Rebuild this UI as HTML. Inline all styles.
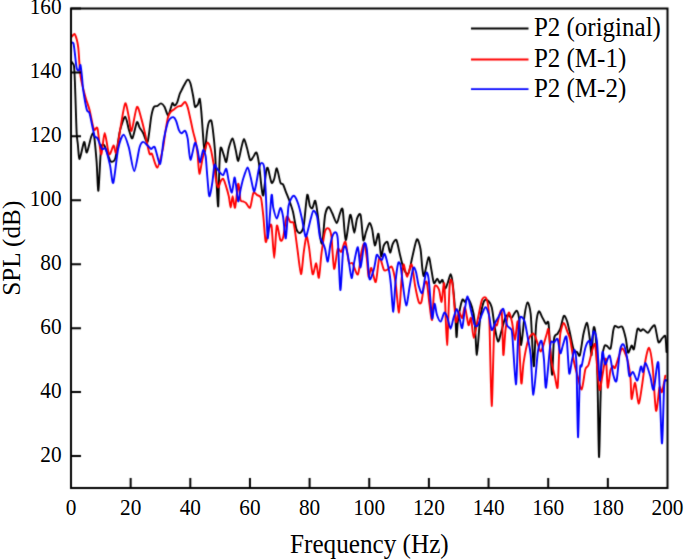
<!DOCTYPE html><html><head><meta charset="utf-8"><style>html,body{margin:0;padding:0;background:#fff;width:685px;height:559px;overflow:hidden}svg{display:block}text{font-family:"Liberation Serif",serif;fill:#000}</style></head><body>
<svg width="685" height="559" viewBox="0 0 685 559">
<rect x="0" y="0" width="685" height="559" fill="#fff"/>
<defs><filter id="bl" color-interpolation-filters="sRGB" x="0" y="0" width="685" height="559" filterUnits="userSpaceOnUse"><feConvolveMatrix order="3" kernelMatrix="0.0196 0.1008 0.0196 0.1008 0.5184 0.1008 0.0196 0.1008 0.0196" edgeMode="duplicate"/></filter><clipPath id="c"><rect x="71.0" y="8.5" width="596.5" height="479.5"/></clipPath></defs>
<g filter="url(#bl)">
<g clip-path="url(#c)" fill="none" stroke-width="1.9" stroke-linejoin="round" stroke-linecap="round">
<path stroke="#000" d="M71.0,61.0C71.19,61.27 72.00,62.33 72.4,63.0C72.80,63.67 73.67,63.47 74.0,66.0C74.33,68.53 74.66,76.27 74.9,82.0C75.14,87.73 75.56,102.07 75.8,109.0C76.04,115.93 76.43,129.33 76.7,134.0C76.97,138.67 77.41,140.67 77.8,144.0C78.19,147.33 78.76,159.27 79.6,159.0C80.44,158.73 83.14,142.85 84.1,142.0C85.06,141.15 85.84,153.33 86.8,152.6C87.76,151.87 90.35,138.89 91.3,136.5C92.25,134.11 93.19,131.35 93.9,134.7C94.61,138.05 96.00,154.12 96.6,161.6C97.20,169.08 97.81,192.48 98.4,190.8C98.99,189.12 100.25,155.11 101.0,149.0C101.75,142.89 103.07,144.20 104.0,145.0C104.93,145.80 107.07,152.79 108.0,155.0C108.93,157.21 110.01,161.20 111.0,161.6C111.99,162.00 114.21,162.08 115.4,158.0C116.59,153.92 118.59,136.49 119.9,131.0C121.21,125.51 124.01,117.01 125.2,116.8C126.39,116.59 127.84,126.53 128.8,129.4C129.76,132.27 131.32,139.26 132.4,138.3C133.48,137.34 135.94,123.63 136.9,122.2C137.86,120.77 138.77,126.16 139.6,127.6C140.43,129.04 142.03,131.09 143.1,133.0C144.17,134.91 146.52,144.06 147.6,141.9C148.68,139.74 150.36,121.45 151.2,116.8C152.04,112.15 153.07,108.44 153.9,107.0C154.73,105.56 156.45,106.48 157.4,106.0C158.35,105.52 160.04,103.27 161.0,103.4C161.96,103.53 163.67,105.39 164.6,107.0C165.53,108.61 167.19,115.33 168.0,115.5C168.81,115.67 170.10,109.98 170.7,108.3C171.30,106.62 172.02,103.26 172.5,102.9C172.98,102.54 173.70,105.60 174.3,105.6C174.90,105.60 176.28,104.45 177.0,102.9C177.72,101.35 179.10,95.67 179.7,94.0C180.30,92.33 180.90,91.60 181.5,90.4C182.10,89.20 183.37,86.43 184.2,85.0C185.03,83.57 186.87,79.93 187.7,79.7C188.53,79.47 189.68,81.15 190.4,83.3C191.12,85.45 192.50,92.71 193.1,95.8C193.70,98.89 194.45,105.14 194.9,106.5C195.35,107.86 196.07,106.36 196.5,106.0C196.93,105.64 197.66,104.76 198.1,103.8C198.54,102.84 199.37,97.80 199.8,98.8C200.23,99.80 200.94,107.46 201.3,111.3C201.66,115.14 202.17,123.09 202.5,127.6C202.83,132.11 203.47,141.94 203.8,145.1C204.13,148.26 204.59,152.97 205.0,151.3C205.41,149.63 206.39,136.44 206.9,132.6C207.41,128.76 208.21,124.09 208.8,122.5C209.39,120.91 210.71,119.35 211.3,120.7C211.89,122.05 212.71,128.52 213.2,132.6C213.69,136.68 214.59,145.30 215.0,151.3C215.41,157.30 215.87,170.25 216.3,177.6C216.73,184.95 217.79,208.08 218.2,206.4C218.61,204.72 219.07,172.85 219.4,165.0C219.73,157.15 220.11,148.82 220.7,147.5C221.29,146.18 223.05,153.17 223.8,155.1C224.55,157.03 225.63,162.95 226.3,162.0C226.97,161.05 227.96,151.13 228.8,148.0C229.64,144.87 231.68,138.23 232.6,138.5C233.52,138.77 234.95,147.00 235.7,150.0C236.45,153.00 237.45,161.27 238.2,161.0C238.95,160.73 240.53,150.93 241.3,148.0C242.07,145.07 243.24,139.00 244.0,139.0C244.76,139.00 246.19,145.20 247.0,148.0C247.81,150.80 249.27,158.80 250.1,160.0C250.93,161.20 252.36,158.00 253.2,157.0C254.04,156.00 255.64,151.70 256.4,152.5C257.16,153.30 258.21,158.27 258.9,163.0C259.59,167.73 261.00,183.73 261.6,188.0C262.20,192.27 262.80,197.15 263.4,195.0C264.00,192.85 265.50,175.46 266.1,171.9C266.70,168.34 267.18,166.87 267.9,168.3C268.62,169.73 270.66,181.17 271.5,182.6C272.34,184.03 273.49,180.91 274.2,179.0C274.91,177.09 275.97,167.82 276.8,168.3C277.63,168.78 279.56,180.45 280.4,182.6C281.24,184.75 282.38,183.20 283.1,184.4C283.82,185.60 284.96,189.43 285.8,191.6C286.64,193.77 288.45,198.05 289.4,200.7C290.35,203.35 291.95,207.67 292.9,211.5C293.85,215.33 295.54,226.55 296.5,229.4C297.46,232.25 299.14,233.38 300.1,232.9C301.06,232.42 302.75,230.85 303.7,225.8C304.65,220.75 306.37,197.64 307.2,195.0C308.03,192.36 309.19,204.27 309.9,206.0C310.61,207.73 311.78,208.71 312.5,208.0C313.22,207.29 314.57,199.53 315.3,200.7C316.03,201.87 317.28,211.55 318.0,216.8C318.72,222.05 320.10,236.74 320.7,240.1C321.30,243.46 321.91,245.35 322.5,242.0C323.09,238.65 324.27,219.67 325.1,215.0C325.93,210.33 327.74,207.23 328.7,207.0C329.66,206.77 331.22,211.15 332.3,213.3C333.38,215.45 335.77,223.10 336.8,223.1C337.83,223.10 339.21,215.09 340.0,213.3C340.79,211.51 341.94,206.13 342.7,209.7C343.46,213.27 344.75,239.27 345.7,240.1C346.65,240.93 349.03,218.85 349.8,215.9C350.57,212.95 350.90,215.73 351.5,218.0C352.10,220.27 353.57,232.82 354.3,232.9C355.03,232.98 356.16,220.99 357.0,218.6C357.84,216.21 359.76,212.13 360.6,215.0C361.44,217.87 362.58,237.83 363.3,240.1C364.02,242.37 365.17,234.27 366.0,232.0C366.83,229.73 368.67,223.45 369.5,223.1C370.33,222.75 371.48,226.41 372.2,229.4C372.92,232.39 374.06,244.91 374.9,245.5C375.74,246.09 377.67,232.37 378.5,233.8C379.33,235.23 380.39,254.64 381.1,256.2C381.81,257.76 382.96,247.41 383.8,245.5C384.64,243.59 386.56,240.95 387.4,241.9C388.24,242.85 389.38,252.36 390.1,252.6C390.82,252.84 391.96,245.37 392.8,243.7C393.64,242.03 395.45,238.67 396.4,240.1C397.35,241.53 399.07,251.07 399.9,254.4C400.73,257.73 401.76,262.58 402.6,265.1C403.44,267.62 405.36,272.34 406.2,273.3C407.04,274.26 408.06,274.58 408.9,272.3C409.74,270.02 411.43,260.61 412.5,256.2C413.57,251.79 415.83,240.16 416.9,239.2C417.97,238.24 419.78,245.16 420.5,249.0C421.22,252.84 421.82,264.41 422.3,268.0C422.78,271.59 423.26,277.34 424.1,275.9C424.94,274.46 427.65,258.16 428.6,257.2C429.55,256.24 430.49,265.26 431.2,268.7C431.91,272.14 433.10,281.68 433.9,283.0C434.70,284.32 436.41,278.59 437.2,278.6C437.99,278.61 439.09,282.91 439.8,283.1C440.51,283.29 441.78,279.28 442.5,280.0C443.22,280.72 444.47,288.23 445.2,288.5C445.93,288.77 447.28,283.91 448.0,282.0C448.72,280.09 450.00,274.20 450.6,274.2C451.20,274.20 451.91,277.36 452.5,282.0C453.09,286.64 454.47,301.67 455.0,309.0C455.53,316.33 456.10,335.53 456.5,337.0C456.90,338.47 457.24,324.92 458.0,320.0C458.76,315.08 461.27,302.50 462.2,300.1C463.13,297.70 464.28,302.24 465.0,302.0C465.72,301.76 466.67,297.61 467.6,298.3C468.53,298.99 471.05,304.09 472.0,307.2C472.95,310.31 474.05,315.24 474.7,321.6C475.35,327.96 476.19,355.11 476.9,354.9C477.61,354.69 479.09,327.07 480.0,320.0C480.91,312.93 482.74,304.55 483.7,301.9C484.66,299.25 486.13,299.39 487.2,300.1C488.27,300.81 490.74,303.87 491.7,307.2C492.66,310.53 493.56,320.53 494.4,325.1C495.24,329.67 497.04,340.78 498.0,341.5C498.96,342.22 500.65,333.63 501.6,330.5C502.55,327.37 504.25,320.07 505.1,318.0C505.95,315.93 507.16,315.00 508.0,315.0C508.84,315.00 510.60,318.13 511.4,318.0C512.20,317.87 513.28,314.96 514.0,314.0C514.72,313.04 516.13,310.27 516.8,310.8C517.47,311.33 518.41,313.44 519.0,318.0C519.59,322.56 520.47,345.29 521.2,345.0C521.93,344.71 523.66,321.48 524.5,315.8C525.34,310.12 526.67,302.64 527.5,302.4C528.33,302.16 530.03,307.92 530.7,314.0C531.37,320.08 532.06,341.08 532.5,348.0C532.94,354.92 533.52,369.01 534.0,365.9C534.48,362.79 535.46,331.98 536.1,324.7C536.74,317.42 537.96,312.25 538.8,311.3C539.64,310.35 541.45,315.93 542.4,317.6C543.35,319.27 545.09,323.08 545.9,323.8C546.71,324.52 547.90,319.29 548.5,323.0C549.10,326.71 549.91,344.69 550.4,351.6C550.89,358.51 551.72,376.48 552.2,374.8C552.68,373.12 553.28,344.48 554.0,339.0C554.72,333.52 556.73,335.17 557.6,333.7C558.47,332.23 559.67,330.39 560.5,328.0C561.33,325.61 562.93,316.73 563.8,315.8C564.67,314.87 566.16,318.61 567.0,321.0C567.84,323.39 569.21,329.86 570.1,333.7C570.99,337.54 572.78,347.36 573.7,349.8C574.62,352.24 576.17,351.29 577.0,352.0C577.83,352.71 579.03,357.54 579.9,355.1C580.77,352.66 582.54,337.99 583.5,333.7C584.46,329.41 586.26,322.19 587.1,322.9C587.94,323.61 589.20,334.71 589.8,339.0C590.40,343.29 591.13,356.29 591.6,355.1C592.07,353.91 592.91,333.75 593.3,330.1C593.69,326.45 594.14,326.38 594.5,327.7C594.86,329.02 595.60,333.03 596.0,340.0C596.40,346.97 597.10,364.41 597.5,380.0C597.90,395.59 598.60,454.23 599.0,456.9C599.40,459.57 600.15,412.57 600.5,400.0C600.85,387.43 601.09,369.73 601.6,362.6C602.11,355.47 603.58,348.71 604.3,346.5C605.02,344.29 606.16,345.76 607.0,346.0C607.84,346.24 609.76,350.38 610.6,348.3C611.44,346.22 612.71,333.39 613.3,330.4C613.89,327.41 614.31,326.29 615.0,325.9C615.69,325.51 617.54,327.38 618.5,327.5C619.46,327.62 621.23,325.32 622.2,326.8C623.17,328.28 625.01,335.16 625.8,338.6C626.59,342.04 627.33,351.67 628.1,352.6C628.87,353.53 630.81,346.08 631.6,345.6C632.39,345.12 633.23,351.17 634.0,349.0C634.77,346.83 636.53,331.70 637.4,329.3C638.27,326.90 639.71,331.00 640.5,331.0C641.29,331.00 642.31,329.06 643.3,329.3C644.29,329.54 646.82,332.96 647.9,332.8C648.98,332.64 650.47,329.03 651.4,328.1C652.33,327.17 653.97,323.93 654.9,325.8C655.83,327.67 657.47,340.39 658.4,342.1C659.33,343.81 660.98,339.37 661.9,338.6C662.82,337.83 664.69,334.51 665.3,336.3C665.91,338.09 666.34,349.91 666.5,352.0"/>
<path stroke="#f00" d="M71.4,37.2C71.80,36.77 73.69,33.72 74.4,34.0C75.11,34.28 76.18,37.45 76.7,39.3C77.22,41.15 77.94,44.75 78.3,47.9C78.66,51.05 79.11,59.18 79.4,62.9C79.69,66.62 80.11,72.85 80.5,75.8C80.89,78.75 81.58,81.95 82.3,85.0C83.02,88.05 84.94,95.41 85.9,98.7C86.86,101.99 88.43,105.61 89.5,109.7C90.57,113.79 92.83,126.89 93.9,129.4C94.97,131.91 96.54,125.17 97.5,128.5C98.46,131.83 100.14,153.80 101.1,154.4C102.06,155.00 103.63,133.00 104.7,133.0C105.77,133.00 107.91,152.73 109.1,154.4C110.29,156.07 112.64,145.74 113.6,145.5C114.56,145.26 115.34,155.23 116.3,152.6C117.26,149.97 119.61,132.36 120.8,125.8C121.99,119.24 124.13,104.60 125.2,103.4C126.27,102.20 127.96,113.12 128.8,116.8C129.64,120.48 130.42,132.31 131.5,131.0C132.58,129.69 135.59,108.65 136.9,107.0C138.21,105.35 140.23,115.13 141.3,118.6C142.37,122.07 143.82,128.35 144.9,133.0C145.98,137.65 148.45,150.70 149.4,153.5C150.35,156.30 150.93,152.12 152.0,154.0C153.07,155.88 155.96,168.27 157.4,167.6C158.84,166.93 161.73,153.80 162.8,149.0C163.87,144.20 164.71,135.84 165.4,131.6C166.09,127.36 167.29,119.83 168.0,117.2C168.71,114.57 169.86,112.97 170.7,111.9C171.54,110.83 173.34,109.92 174.3,109.2C175.26,108.48 176.94,106.98 177.9,106.5C178.86,106.02 180.55,106.20 181.5,105.6C182.45,105.00 184.17,101.76 185.0,102.0C185.83,102.24 186.98,105.13 187.7,107.4C188.42,109.67 189.68,115.77 190.4,119.0C191.12,122.23 192.38,128.49 193.1,131.6C193.82,134.71 195.20,139.27 195.8,142.3C196.40,145.33 197.12,150.10 197.6,154.3C198.08,158.50 198.75,173.20 199.4,173.8C200.05,174.40 201.67,162.31 202.5,158.8C203.33,155.29 204.93,149.67 205.6,147.5C206.27,145.33 206.82,142.33 207.5,142.5C208.18,142.67 209.86,145.80 210.7,148.8C211.54,151.80 213.05,160.67 213.8,165.0C214.55,169.33 215.71,178.29 216.3,181.3C216.89,184.31 217.61,187.60 218.2,187.6C218.79,187.60 220.03,182.47 220.7,181.3C221.37,180.13 222.53,178.29 223.2,178.8C223.87,179.31 224.95,182.77 225.7,185.1C226.45,187.43 228.13,193.30 228.8,196.3C229.47,199.30 230.19,207.60 230.7,207.6C231.21,207.60 232.01,196.30 232.6,196.3C233.19,196.30 234.35,209.27 235.1,207.6C235.85,205.93 237.48,184.81 238.2,183.8C238.92,182.79 239.83,197.65 240.5,200.0C241.17,202.35 242.47,201.00 243.2,201.4C243.93,201.80 245.08,202.17 246.0,203.0C246.92,203.83 249.11,208.93 250.1,207.6C251.09,206.27 252.45,194.67 253.4,193.0C254.35,191.33 256.19,194.43 257.2,195.1C258.21,195.77 260.17,195.08 261.0,198.0C261.83,200.92 262.77,211.15 263.4,217.0C264.03,222.85 264.98,240.25 265.7,241.9C266.42,243.55 268.03,231.55 268.8,229.4C269.57,227.25 270.78,221.99 271.5,225.8C272.22,229.61 273.49,258.00 274.2,258.0C274.91,258.00 275.97,228.19 276.8,225.8C277.63,223.41 279.56,238.55 280.4,240.1C281.24,241.65 282.26,240.51 283.1,237.4C283.94,234.29 285.74,218.83 286.7,216.8C287.66,214.77 289.35,221.24 290.3,222.2C291.25,223.16 292.85,220.43 293.8,224.0C294.75,227.57 296.44,242.32 297.4,249.0C298.36,255.68 300.16,273.62 301.0,274.1C301.84,274.58 302.98,257.61 303.7,252.6C304.42,247.59 305.69,237.22 306.4,236.5C307.11,235.78 308.17,242.19 309.0,247.2C309.83,252.21 311.64,271.95 312.6,274.1C313.56,276.25 315.36,262.82 316.2,263.3C317.04,263.78 318.18,279.13 318.9,277.7C319.62,276.27 320.77,258.81 321.6,252.6C322.43,246.39 324.15,234.31 325.1,231.1C326.05,227.89 327.86,227.78 328.7,228.5C329.54,229.22 330.68,231.14 331.4,236.5C332.12,241.86 333.26,267.03 334.1,268.7C334.94,270.37 336.75,251.27 337.7,249.0C338.65,246.73 340.17,252.65 341.2,251.7C342.23,250.75 344.37,240.46 345.4,241.9C346.43,243.34 347.95,259.65 348.9,262.5C349.85,265.35 351.30,261.70 352.5,263.3C353.70,264.90 356.70,276.01 357.9,274.5C359.10,272.99 360.66,256.11 361.5,252.0C362.34,247.89 363.49,242.90 364.2,243.7C364.91,244.50 366.21,253.59 366.8,258.0C367.39,262.41 368.00,275.47 368.6,276.8C369.20,278.13 370.34,267.31 371.3,268.0C372.26,268.69 374.72,283.40 375.8,282.0C376.88,280.60 378.33,259.14 379.4,257.5C380.47,255.86 382.73,268.07 383.8,269.7C384.87,271.33 386.32,270.06 387.4,269.7C388.48,269.34 390.82,265.33 391.9,267.0C392.98,268.67 394.55,276.12 395.5,282.2C396.45,288.28 398.20,312.89 399.0,312.6C399.80,312.31 400.90,286.44 401.5,280.0C402.10,273.56 402.75,264.73 403.5,264.3C404.25,263.87 406.02,276.80 407.1,276.8C408.18,276.80 410.53,263.10 411.6,264.3C412.67,265.50 414.15,280.79 415.1,285.8C416.05,290.81 417.86,299.74 418.7,301.9C419.54,304.06 420.68,304.15 421.4,302.0C422.12,299.85 423.38,288.44 424.1,285.8C424.82,283.16 426.09,279.81 426.8,282.2C427.51,284.59 428.69,298.69 429.4,303.7C430.11,308.71 431.42,322.03 432.1,319.8C432.78,317.57 433.59,291.05 434.5,287.0C435.41,282.95 437.95,287.41 438.9,289.4C439.85,291.39 440.88,302.62 441.6,301.9C442.32,301.18 443.58,278.25 444.3,284.0C445.02,289.75 446.28,344.88 447.0,345.0C447.72,345.12 448.97,293.03 449.7,284.9C450.43,276.77 451.67,279.11 452.5,284.0C453.33,288.89 455.03,317.87 455.9,321.6C456.77,325.33 458.16,312.48 459.0,312.0C459.84,311.52 461.41,318.64 462.2,318.0C462.99,317.36 464.06,306.25 464.9,307.2C465.74,308.15 467.69,323.66 468.5,325.1C469.31,326.54 470.29,316.28 471.0,318.0C471.71,319.72 472.87,338.00 473.8,338.0C474.73,338.00 476.92,323.05 478.0,318.0C479.08,312.95 480.90,302.85 481.9,300.1C482.90,297.35 484.69,296.75 485.5,297.4C486.31,298.05 487.47,301.32 488.0,305.0C488.53,308.68 489.01,311.55 489.5,325.0C489.99,338.45 491.07,405.23 491.7,405.9C492.33,406.57 493.49,340.79 494.2,330.0C494.91,319.21 496.01,327.56 497.0,325.0C497.99,322.44 500.76,306.81 501.6,310.8C502.44,314.79 502.78,352.34 503.3,354.9C503.82,357.46 504.78,335.64 505.5,330.0C506.22,324.36 507.83,313.67 508.7,312.6C509.57,311.53 511.16,318.35 512.0,322.0C512.84,325.65 514.20,340.00 515.0,340.0C515.80,340.00 517.17,316.32 518.0,322.0C518.83,327.68 520.45,377.23 521.2,382.6C521.95,387.97 522.69,367.87 523.6,362.3C524.51,356.73 526.81,344.61 528.0,340.8C529.19,336.99 531.57,334.34 532.5,333.7C533.43,333.06 534.28,334.57 535.0,336.0C535.72,337.43 537.15,342.32 537.9,344.4C538.65,346.48 539.85,351.52 540.6,351.6C541.35,351.68 542.67,347.39 543.5,345.0C544.33,342.61 546.12,335.69 546.8,333.7C547.48,331.71 548.00,326.53 548.6,330.1C549.20,333.67 550.46,354.30 551.3,360.5C552.14,366.70 554.06,372.99 554.9,376.6C555.74,380.21 557.05,390.21 557.6,387.6C558.15,384.99 558.64,364.19 559.0,357.0C559.36,349.81 559.66,338.25 560.3,333.7C560.94,329.15 562.85,323.14 563.8,322.9C564.75,322.66 566.56,329.75 567.4,331.9C568.24,334.05 569.26,335.19 570.1,339.0C570.94,342.81 572.75,355.73 573.7,360.5C574.65,365.27 576.13,370.95 577.2,374.8C578.27,378.65 580.62,390.12 581.7,389.4C582.78,388.68 584.39,372.65 585.3,369.4C586.21,366.15 587.55,367.61 588.5,365.0C589.45,362.39 591.52,352.55 592.4,349.8C593.28,347.05 594.49,342.37 595.1,344.4C595.71,346.43 596.40,358.92 597.0,365.0C597.60,371.08 598.87,388.67 599.6,390.0C600.33,391.33 601.66,379.17 602.5,375.0C603.34,370.83 605.21,357.02 605.9,358.7C606.59,360.38 607.09,386.09 607.7,387.6C608.31,389.11 609.79,372.88 610.5,370.0C611.21,367.12 612.40,366.27 613.0,366.0C613.60,365.73 614.25,369.17 615.0,368.0C615.75,366.83 617.64,359.83 618.6,357.2C619.56,354.57 621.24,348.59 622.2,348.3C623.16,348.01 625.03,353.17 625.8,355.0C626.57,356.83 627.37,358.93 628.0,362.0C628.63,365.07 630.02,373.07 630.5,378.0C630.98,382.93 630.99,398.36 631.6,399.0C632.21,399.64 634.17,382.17 635.1,382.8C636.03,383.43 637.67,403.39 638.6,403.7C639.53,404.01 641.17,390.99 642.1,385.1C643.03,379.21 644.67,364.46 645.6,359.5C646.53,354.54 648.17,346.97 649.1,347.9C650.03,348.83 651.68,358.13 652.6,366.5C653.52,374.87 655.08,407.91 656.0,410.7C656.92,413.49 658.71,389.88 659.5,387.4C660.29,384.92 661.13,393.65 661.9,392.1C662.67,390.55 664.85,377.97 665.3,375.8"/>
<path stroke="#00f" d="M71.4,42.5C71.68,42.65 73.01,41.88 73.5,43.6C73.99,45.32 74.67,52.11 75.1,55.4C75.53,58.69 76.19,66.30 76.7,68.3C77.21,70.30 78.39,70.83 78.9,70.4C79.41,69.97 80.07,64.09 80.5,65.1C80.93,66.11 81.74,74.68 82.1,78.0C82.46,81.32 82.57,85.77 83.2,90.0C83.83,94.23 85.96,106.59 86.8,109.7C87.64,112.81 88.67,110.67 89.5,113.3C90.33,115.93 92.29,126.31 93.0,129.4C93.71,132.49 94.20,135.31 94.8,136.5C95.40,137.69 96.54,136.63 97.5,138.3C98.46,139.97 100.92,147.57 102.0,149.0C103.08,150.43 104.53,146.85 105.6,149.0C106.67,151.15 108.97,160.59 110.0,165.1C111.03,169.61 112.22,184.95 113.3,182.8C114.38,180.65 116.74,155.41 118.1,149.0C119.46,142.59 122.07,134.94 123.5,134.7C124.93,134.46 127.37,142.35 128.8,147.2C130.23,152.05 132.76,171.10 134.2,171.1C135.64,171.10 138.41,151.09 139.6,147.2C140.79,143.31 142.03,142.13 143.1,141.9C144.17,141.67 146.52,144.55 147.6,145.5C148.68,146.45 150.24,148.77 151.2,149.0C152.16,149.23 153.61,145.20 154.8,147.2C155.99,149.20 158.93,164.89 160.1,164.0C161.27,163.11 162.65,145.78 163.6,140.5C164.55,135.22 166.37,127.27 167.2,124.4C168.03,121.53 168.97,119.96 169.8,119.0C170.63,118.04 172.56,116.96 173.4,117.2C174.24,117.44 175.38,119.12 176.1,120.8C176.82,122.48 178.08,128.13 178.8,129.8C179.52,131.47 180.67,133.18 181.5,133.3C182.33,133.42 184.17,129.98 185.0,130.7C185.83,131.42 186.98,134.83 187.7,138.7C188.42,142.57 189.44,159.13 190.4,159.7C191.36,160.27 193.94,144.29 194.9,143.0C195.86,141.71 196.92,147.40 197.6,150.0C198.28,152.60 199.27,162.50 200.0,162.5C200.73,162.50 202.35,150.87 203.1,150.0C203.85,149.13 205.09,153.16 205.6,156.0C206.11,158.84 206.47,166.26 206.9,171.3C207.33,176.34 208.39,190.63 208.8,193.8C209.21,196.97 209.51,196.77 210.0,195.1C210.49,193.43 211.91,185.31 212.5,181.3C213.09,177.29 213.89,166.84 214.4,165.0C214.91,163.16 215.55,166.49 216.3,167.5C217.05,168.51 219.08,171.59 220.0,172.6C220.92,173.61 222.36,175.61 223.2,175.1C224.04,174.59 225.55,167.97 226.3,168.8C227.05,169.63 228.05,178.13 228.8,181.3C229.55,184.47 231.15,193.09 231.9,192.6C232.65,192.11 233.85,178.61 234.4,177.6C234.95,176.59 235.49,181.83 236.0,185.0C236.51,188.17 237.60,200.73 238.2,201.4C238.80,202.07 239.83,193.01 240.5,190.0C241.17,186.99 242.25,181.80 243.2,178.8C244.15,175.80 246.60,167.66 247.6,167.5C248.60,167.34 249.86,174.43 250.7,177.6C251.54,180.77 253.19,190.31 253.9,191.3C254.61,192.29 255.33,188.00 256.0,185.0C256.67,182.00 258.15,171.75 258.9,168.8C259.65,165.85 260.88,162.97 261.6,162.9C262.32,162.83 263.70,163.35 264.3,168.3C264.90,173.25 265.62,190.67 266.1,200.0C266.58,209.33 267.18,238.91 267.9,238.3C268.62,237.69 270.78,199.45 271.5,195.4C272.22,191.35 272.59,204.81 273.3,207.9C274.01,210.99 275.85,218.60 276.8,218.6C277.75,218.60 279.56,208.14 280.4,207.9C281.24,207.66 282.38,212.75 283.1,216.8C283.82,220.85 285.08,239.73 285.8,238.3C286.52,236.87 287.67,211.58 288.5,206.1C289.33,200.62 291.17,198.51 292.0,197.2C292.83,195.89 293.86,195.35 294.7,196.3C295.54,197.25 297.34,201.33 298.3,204.3C299.26,207.27 300.94,214.31 301.9,218.6C302.86,222.89 304.69,234.98 305.5,236.5C306.31,238.02 307.29,232.39 308.0,230.0C308.71,227.61 310.07,221.19 310.8,218.6C311.53,216.01 312.66,210.84 313.5,210.6C314.34,210.36 316.26,213.35 317.1,216.8C317.94,220.25 319.08,233.15 319.8,236.5C320.52,239.85 321.79,240.23 322.5,241.9C323.21,243.57 324.39,246.37 325.1,249.0C325.81,251.63 327.08,262.31 327.8,261.6C328.52,260.89 329.66,247.53 330.5,243.7C331.34,239.87 333.14,233.62 334.1,232.9C335.06,232.18 336.87,230.69 337.7,238.3C338.53,245.91 339.59,288.17 340.3,290.0C341.01,291.83 342.32,257.81 343.0,252.0C343.68,246.19 344.73,245.84 345.4,246.4C346.07,246.96 347.17,251.99 348.0,256.2C348.83,260.41 350.76,277.28 351.6,278.0C352.44,278.72 353.46,265.71 354.3,261.6C355.14,257.49 357.06,246.41 357.9,247.2C358.74,247.99 359.76,267.97 360.6,267.5C361.44,267.03 363.37,246.17 364.2,243.7C365.03,241.23 366.09,244.29 366.8,249.0C367.51,253.71 368.54,276.37 369.5,279.0C370.46,281.63 373.04,271.90 374.0,268.7C374.96,265.50 375.98,256.43 376.7,255.0C377.42,253.57 378.69,257.36 379.4,258.0C380.11,258.64 381.29,260.33 382.0,259.8C382.71,259.27 383.74,252.44 384.7,254.0C385.66,255.56 388.36,267.26 389.2,271.5C390.04,275.74 390.45,280.44 391.0,285.8C391.55,291.16 392.70,312.18 393.3,311.7C393.90,311.22 394.86,288.64 395.5,282.2C396.14,275.76 397.43,265.69 398.1,263.4C398.77,261.11 399.90,262.49 400.5,265.0C401.10,267.51 401.84,276.80 402.6,282.2C403.36,287.60 405.24,305.02 406.2,305.5C407.16,305.98 408.85,290.81 409.8,285.8C410.75,280.79 412.47,269.74 413.3,267.9C414.13,266.06 415.28,269.61 416.0,272.0C416.72,274.39 417.86,283.01 418.7,285.8C419.54,288.59 421.34,294.57 422.3,292.9C423.26,291.23 425.06,275.21 425.9,273.3C426.74,271.39 427.77,272.64 428.6,278.6C429.43,284.56 431.31,314.65 432.1,318.0C432.89,321.35 433.85,304.10 434.5,303.7C435.15,303.30 436.17,312.61 437.0,315.0C437.83,317.39 439.73,321.92 440.7,321.6C441.67,321.28 443.39,313.08 444.3,312.6C445.21,312.12 446.66,315.85 447.5,318.0C448.34,320.15 449.80,328.70 450.6,328.7C451.40,328.70 452.67,320.63 453.5,318.0C454.33,315.37 456.00,309.00 456.8,309.0C457.60,309.00 458.78,315.47 459.5,318.0C460.22,320.53 461.48,329.20 462.2,328.0C462.92,326.80 464.18,313.20 464.9,309.0C465.62,304.80 466.77,296.26 467.6,296.5C468.43,296.74 470.15,306.99 471.1,310.8C472.05,314.61 473.78,323.21 474.7,325.1C475.62,326.99 477.04,326.43 478.0,325.0C478.96,323.57 480.90,316.77 481.9,314.4C482.90,312.03 484.55,307.12 485.5,307.2C486.45,307.28 488.17,311.96 489.0,315.0C489.83,318.04 490.83,329.07 491.7,330.0C492.57,330.93 494.54,323.84 495.5,322.0C496.46,320.16 497.86,317.93 498.9,316.2C499.94,314.47 502.22,307.83 503.3,309.0C504.38,310.17 506.04,322.37 507.0,325.0C507.96,327.63 509.79,327.37 510.5,328.7C511.21,330.03 511.58,327.57 512.3,335.0C513.02,342.43 515.14,383.73 515.9,384.4C516.66,385.07 517.45,348.91 518.0,340.0C518.55,331.09 519.13,320.12 520.0,317.6C520.87,315.08 523.43,318.25 524.5,321.1C525.57,323.95 527.17,334.47 528.0,339.0C528.83,343.53 529.98,347.67 530.7,355.1C531.42,362.53 532.44,395.17 533.4,394.7C534.36,394.23 536.82,358.79 537.9,351.6C538.98,344.41 540.69,339.68 541.5,340.8C542.31,341.92 543.40,353.76 544.0,360.0C544.60,366.24 545.15,389.68 546.0,387.6C546.85,385.52 549.33,350.40 550.4,344.4C551.47,338.40 553.04,343.32 554.0,342.6C554.96,341.88 556.76,337.57 557.6,339.0C558.44,340.43 559.58,352.50 560.3,353.3C561.02,354.10 562.17,347.15 563.0,345.0C563.83,342.85 565.67,333.43 566.5,337.2C567.33,340.97 568.47,370.26 569.2,373.3C569.93,376.34 571.28,363.13 572.0,360.0C572.72,356.87 574.00,349.13 574.6,349.8C575.20,350.47 576.05,353.35 576.5,365.0C576.95,376.65 577.53,436.53 578.0,437.2C578.47,437.87 579.51,379.51 580.0,370.0C580.49,360.49 580.99,368.83 581.7,365.9C582.41,362.97 584.34,351.35 585.3,348.0C586.26,344.65 588.14,341.20 588.9,340.8C589.66,340.40 590.37,346.27 591.0,345.0C591.63,343.73 592.81,331.86 593.6,331.3C594.39,330.74 596.07,334.24 596.9,340.8C597.73,347.36 599.05,379.02 599.8,380.5C600.55,381.98 601.78,354.05 602.5,351.9C603.22,349.75 604.24,363.92 605.2,364.4C606.16,364.88 608.62,354.07 609.7,355.5C610.78,356.93 612.38,371.77 613.3,375.1C614.22,378.43 615.71,383.82 616.6,380.5C617.49,377.18 619.08,355.01 620.0,350.2C620.92,345.39 622.57,343.47 623.5,344.4C624.43,345.33 626.23,353.01 627.0,357.2C627.77,361.39 628.50,373.83 629.3,375.8C630.10,377.77 631.92,371.37 633.0,372.0C634.08,372.63 636.35,381.23 637.4,380.5C638.45,379.77 640.15,367.63 640.9,366.5C641.65,365.37 642.37,372.47 643.0,372.0C643.63,371.53 644.64,362.49 645.6,363.0C646.56,363.51 649.12,372.23 650.2,375.8C651.28,379.37 652.61,391.51 653.7,389.8C654.79,388.09 657.31,355.87 658.4,363.0C659.49,370.13 661.13,440.35 661.9,443.3C662.67,446.25 663.59,393.47 664.2,385.1C664.81,376.73 666.19,381.11 666.5,380.5"/>
</g>
<rect x="71.0" y="8.5" width="596.5" height="479.5" fill="none" stroke="#000" stroke-width="2"/>
<path d="M71.0,456.03h10M71.0,392.10h10M71.0,328.17h10M71.0,264.23h10M71.0,200.30h10M71.0,136.37h10M71.0,72.43h10M71.0,8.50h10M130.65,488.0v-10M190.30,488.0v-10M249.95,488.0v-10M309.60,488.0v-10M369.25,488.0v-10M428.90,488.0v-10M488.55,488.0v-10M548.20,488.0v-10M607.85,488.0v-10" stroke="#000" stroke-width="2" fill="none"/>
<line x1="471" y1="28.45" x2="528.5" y2="28.45" stroke="#000" stroke-width="1.9"/>
<line x1="471" y1="59.5" x2="528.5" y2="59.5" stroke="#f00" stroke-width="1.9"/>
<line x1="471" y1="89.15" x2="528.5" y2="89.15" stroke="#00f" stroke-width="1.9"/>
</g>
<text x="61.6" y="461.8" transform="matrix(1,0,0,1.06,0,-27.710)" font-size="21.3" text-anchor="end">20</text>
<text x="61.6" y="397.9" transform="matrix(1,0,0,1.06,0,-23.874)" font-size="21.3" text-anchor="end">40</text>
<text x="61.6" y="334.0" transform="matrix(1,0,0,1.06,0,-20.038)" font-size="21.3" text-anchor="end">60</text>
<text x="61.6" y="270.0" transform="matrix(1,0,0,1.06,0,-16.202)" font-size="21.3" text-anchor="end">80</text>
<text x="61.6" y="206.1" transform="matrix(1,0,0,1.06,0,-12.366)" font-size="21.3" text-anchor="end">100</text>
<text x="61.6" y="142.2" transform="matrix(1,0,0,1.06,0,-8.530)" font-size="21.3" text-anchor="end">120</text>
<text x="61.6" y="78.2" transform="matrix(1,0,0,1.06,0,-4.694)" font-size="21.3" text-anchor="end">140</text>
<text x="61.6" y="14.3" transform="matrix(1,0,0,1.06,0,-0.858)" font-size="21.3" text-anchor="end">160</text>
<text x="71.0" y="514.8" transform="matrix(1,0,0,1.06,0,-30.888)" font-size="21.3" text-anchor="middle">0</text>
<text x="130.7" y="514.8" transform="matrix(1,0,0,1.06,0,-30.888)" font-size="21.3" text-anchor="middle">20</text>
<text x="190.3" y="514.8" transform="matrix(1,0,0,1.06,0,-30.888)" font-size="21.3" text-anchor="middle">40</text>
<text x="249.9" y="514.8" transform="matrix(1,0,0,1.06,0,-30.888)" font-size="21.3" text-anchor="middle">60</text>
<text x="309.6" y="514.8" transform="matrix(1,0,0,1.06,0,-30.888)" font-size="21.3" text-anchor="middle">80</text>
<text x="369.2" y="514.8" transform="matrix(1,0,0,1.06,0,-30.888)" font-size="21.3" text-anchor="middle">100</text>
<text x="428.9" y="514.8" transform="matrix(1,0,0,1.06,0,-30.888)" font-size="21.3" text-anchor="middle">120</text>
<text x="488.6" y="514.8" transform="matrix(1,0,0,1.06,0,-30.888)" font-size="21.3" text-anchor="middle">140</text>
<text x="548.2" y="514.8" transform="matrix(1,0,0,1.06,0,-30.888)" font-size="21.3" text-anchor="middle">160</text>
<text x="607.9" y="514.8" transform="matrix(1,0,0,1.06,0,-30.888)" font-size="21.3" text-anchor="middle">180</text>
<text x="667.5" y="514.8" transform="matrix(1,0,0,1.06,0,-30.888)" font-size="21.3" text-anchor="middle">200</text>
<text x="369.4" y="553" transform="matrix(1,0,0,1.06,0,-33.180)" font-size="25.2" text-anchor="middle">Frequency (Hz)</text>
<text transform="translate(20,248.2) rotate(-90)" font-size="25.2" text-anchor="middle">SPL (dB)</text>
<text x="533.9" y="36.3" transform="matrix(1,0,0,1.06,0,-2.178)" font-size="25">P2 (original)</text>
<text x="533.9" y="67.2" transform="matrix(1,0,0,1.06,0,-4.032)" font-size="25">P2 (M-1)</text>
<text x="533.9" y="96.9" transform="matrix(1,0,0,1.06,0,-5.814)" font-size="25">P2 (M-2)</text>
</svg></body></html>
